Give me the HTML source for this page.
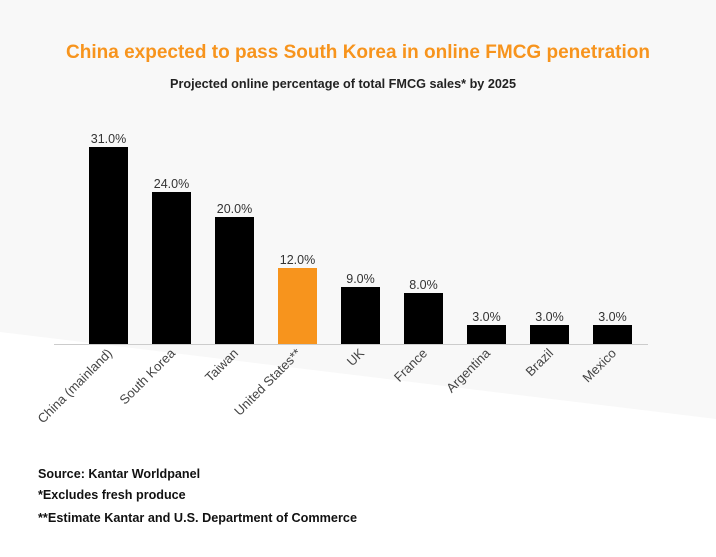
<!DOCTYPE html>
<html><head><style>
html,body{margin:0;padding:0;background:#fff;}
</style></head><body>
<svg width="716" height="552" xmlns="http://www.w3.org/2000/svg" font-family="Liberation Sans, sans-serif">
<rect width="716" height="552" fill="#fff"/>
<polygon points="0,0 716,0 716,419 0,332" fill="#f8f8f8"/>
<text x="358" y="58" text-anchor="middle" font-size="19" font-weight="bold" fill="#f7941d" textLength="584" lengthAdjust="spacingAndGlyphs">China expected to pass South Korea in online FMCG penetration</text>
<text x="343" y="88" text-anchor="middle" font-size="13" font-weight="bold" fill="#222" textLength="346" lengthAdjust="spacingAndGlyphs">Projected online percentage of total FMCG sales* by 2025</text>
<g fill="#000">
<rect x="89" y="147" width="39" height="197"/>
<rect x="152" y="192" width="39" height="152"/>
<rect x="215" y="217" width="39" height="127"/>
<rect x="278" y="268" width="39" height="76" fill="#f7941d"/>
<rect x="341" y="287" width="39" height="57"/>
<rect x="404" y="293" width="39" height="51"/>
<rect x="467" y="325" width="39" height="19"/>
<rect x="530" y="325" width="39" height="19"/>
<rect x="593" y="325" width="39" height="19"/>
</g>
<line x1="54" y1="344.5" x2="648" y2="344.5" stroke="#ccc" stroke-width="1"/>
<g font-size="12.5" fill="#333" text-anchor="middle">
<text x="108.5" y="143">31.0%</text>
<text x="171.5" y="188">24.0%</text>
<text x="234.5" y="213">20.0%</text>
<text x="297.5" y="264">12.0%</text>
<text x="360.5" y="283">9.0%</text>
<text x="423.5" y="289">8.0%</text>
<text x="486.5" y="321">3.0%</text>
<text x="549.5" y="321">3.0%</text>
<text x="612.5" y="321">3.0%</text>
</g>
<g font-size="13" fill="#444" text-anchor="end">
<text transform="translate(113,354) rotate(-45)">China (mainland)</text>
<text transform="translate(176,354) rotate(-45)">South Korea</text>
<text transform="translate(239,354) rotate(-45)">Taiwan</text>
<text transform="translate(302,354) rotate(-45)">United States**</text>
<text transform="translate(365,354) rotate(-45)">UK</text>
<text transform="translate(428,354) rotate(-45)">France</text>
<text transform="translate(491,354) rotate(-45)">Argentina</text>
<text transform="translate(554,354) rotate(-45)">Brazil</text>
<text transform="translate(617,354) rotate(-45)">Mexico</text>
</g>
<g font-size="12.6" font-weight="bold" fill="#111">
<text x="38" y="478">Source: Kantar Worldpanel</text>
<text x="38" y="499">*Excludes fresh produce</text>
<text x="38" y="522" textLength="319" lengthAdjust="spacingAndGlyphs">**Estimate Kantar and U.S. Department of Commerce</text>
</g>
</svg>
</body></html>
